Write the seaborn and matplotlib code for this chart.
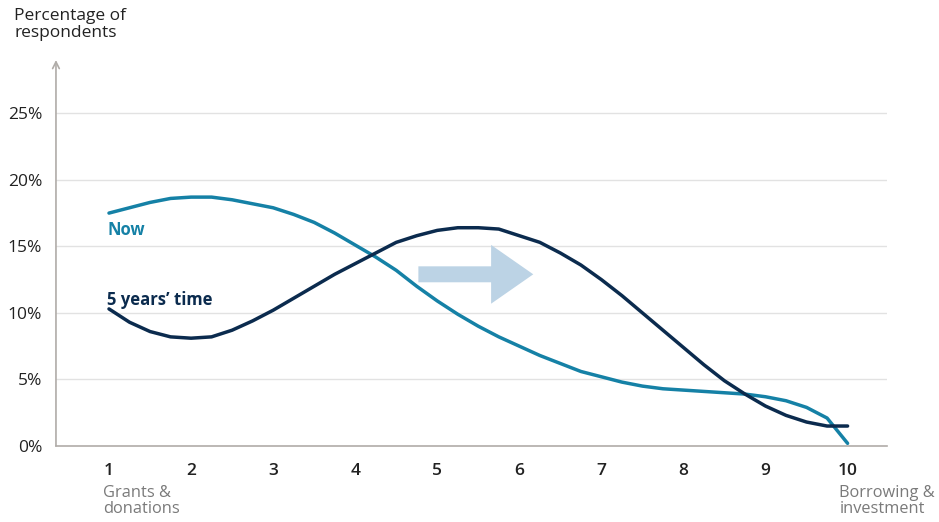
import numpy as np
import pandas as pd
import matplotlib
matplotlib.use("Agg")
import matplotlib.pyplot as plt
import seaborn as sns

# scale position 1..10 (grants & donations -> borrowing & investment)
scale = [1.0, 1.25, 1.5, 1.75, 2.0, 2.25, 2.5, 2.75, 3.0, 3.25, 3.5, 3.75,
         4.0, 4.25, 4.5, 4.75, 5.0, 5.25, 5.5, 5.75, 6.0, 6.25, 6.5, 6.75,
         7.0, 7.25, 7.5, 7.75, 8.0, 8.25, 8.5, 8.75, 9.0, 9.25, 9.5, 9.75, 10.0]
now = [17.5, 17.9, 18.3, 18.6, 18.7, 18.7, 18.5, 18.2, 17.9, 17.4, 16.8, 16.0,
       15.1, 14.2, 13.2, 12.0, 10.9, 9.9, 9.0, 8.2, 7.5, 6.8, 6.2, 5.6,
       5.2, 4.8, 4.5, 4.3, 4.2, 4.1, 4.0, 3.9, 3.7, 3.4, 2.9, 2.1, 0.2]
five_years = [10.3, 9.3, 8.6, 8.2, 8.1, 8.2, 8.7, 9.4, 10.2, 11.1, 12.0, 12.9,
              13.7, 14.5, 15.3, 15.8, 16.2, 16.4, 16.4, 16.3, 15.8, 15.3, 14.5, 13.6,
              12.5, 11.3, 10.0, 8.7, 7.4, 6.1, 4.9, 3.9, 3.0, 2.3, 1.8, 1.5, 1.5]
x_ticks = list(range(1, 11))
y_ticks = [0, 5, 10, 15, 20, 25]

teal = "#1581a6"
navy = "#0b2b4e"
grey_txt = "#7a7a7a"

sns.set_style("white")
plt.rcParams["font.family"] = ["Open Sans", "DejaVu Sans"]

df = pd.DataFrame({"x": scale, "Now": now, "5 years' time": five_years})

fig = plt.figure(figsize=(9.39, 5.22), dpi=100)
ax = fig.add_axes([0.0596, 0.1456, 0.885, 0.7394])

for y in y_ticks[1:]:
    ax.axhline(y, color="#e2e2e2", lw=1, zorder=0)

sns.lineplot(data=df, x="x", y="Now", color=teal, lw=2.5, ax=ax)
sns.lineplot(data=df, x="x", y="5 years' time", color=navy, lw=2.5, ax=ax)

ax.set_xlim(0.354, 10.48)
ax.set_ylim(0, 29)
ax.set_xticks(x_ticks)
ax.set_yticks(y_ticks)
ax.set_yticklabels([f"{v}%" for v in y_ticks])
ax.set_xlabel("")
ax.set_ylabel("")
ax.tick_params(axis="x", length=0, pad=12, labelsize=12.5, colors="#222222")
ax.tick_params(axis="y", length=0, pad=10, labelsize=12.5, colors="#222222")
for lbl in ax.get_xticklabels():
    lbl.set_fontweight("semibold")

for s in ["top", "right", "left"]:
    ax.spines[s].set_visible(False)
ax.spines["bottom"].set_color("#b0aca8")
ax.spines["bottom"].set_linewidth(1.2)

# y axis with arrow head
ax.annotate("", xy=(0, 1.0), xytext=(0, 0), xycoords="axes fraction",
            arrowprops=dict(arrowstyle="->", color="#b0aca8", lw=1.2,
                            shrinkA=0, shrinkB=0, mutation_scale=12))

# direction arrow
ax.annotate("", xy=(6.17, 12.9), xytext=(4.77, 12.9),
            arrowprops=dict(arrowstyle="simple,head_length=0.66,head_width=0.92,tail_width=0.25",
                            color="#bcd3e5", lw=0, shrinkA=0, shrinkB=0,
                            mutation_scale=46))

ax.text(0.98, 16.2, "Now", color=teal, fontsize=12, fontweight="bold", va="center")
ax.text(0.98, 11.0, "5 years\u2019 time", color=navy, fontsize=12,
        fontweight="bold", va="center")

fig.text(14 / 939, 1 - 8 / 522, "Percentage of\nrespondents", fontsize=12.5,
         color="#222222", va="top", ha="left", linespacing=1.05)
ax.text(0.93, -0.1, "Grants &\ndonations", transform=ax.get_xaxis_transform(),
        fontsize=11.8, color=grey_txt, va="top", ha="left", linespacing=1.0)
ax.text(9.9, -0.1, "Borrowing &\ninvestment", transform=ax.get_xaxis_transform(),
        fontsize=11.8, color=grey_txt, va="top", ha="left", linespacing=1.0)

fig.savefig("out.png", dpi=100)
